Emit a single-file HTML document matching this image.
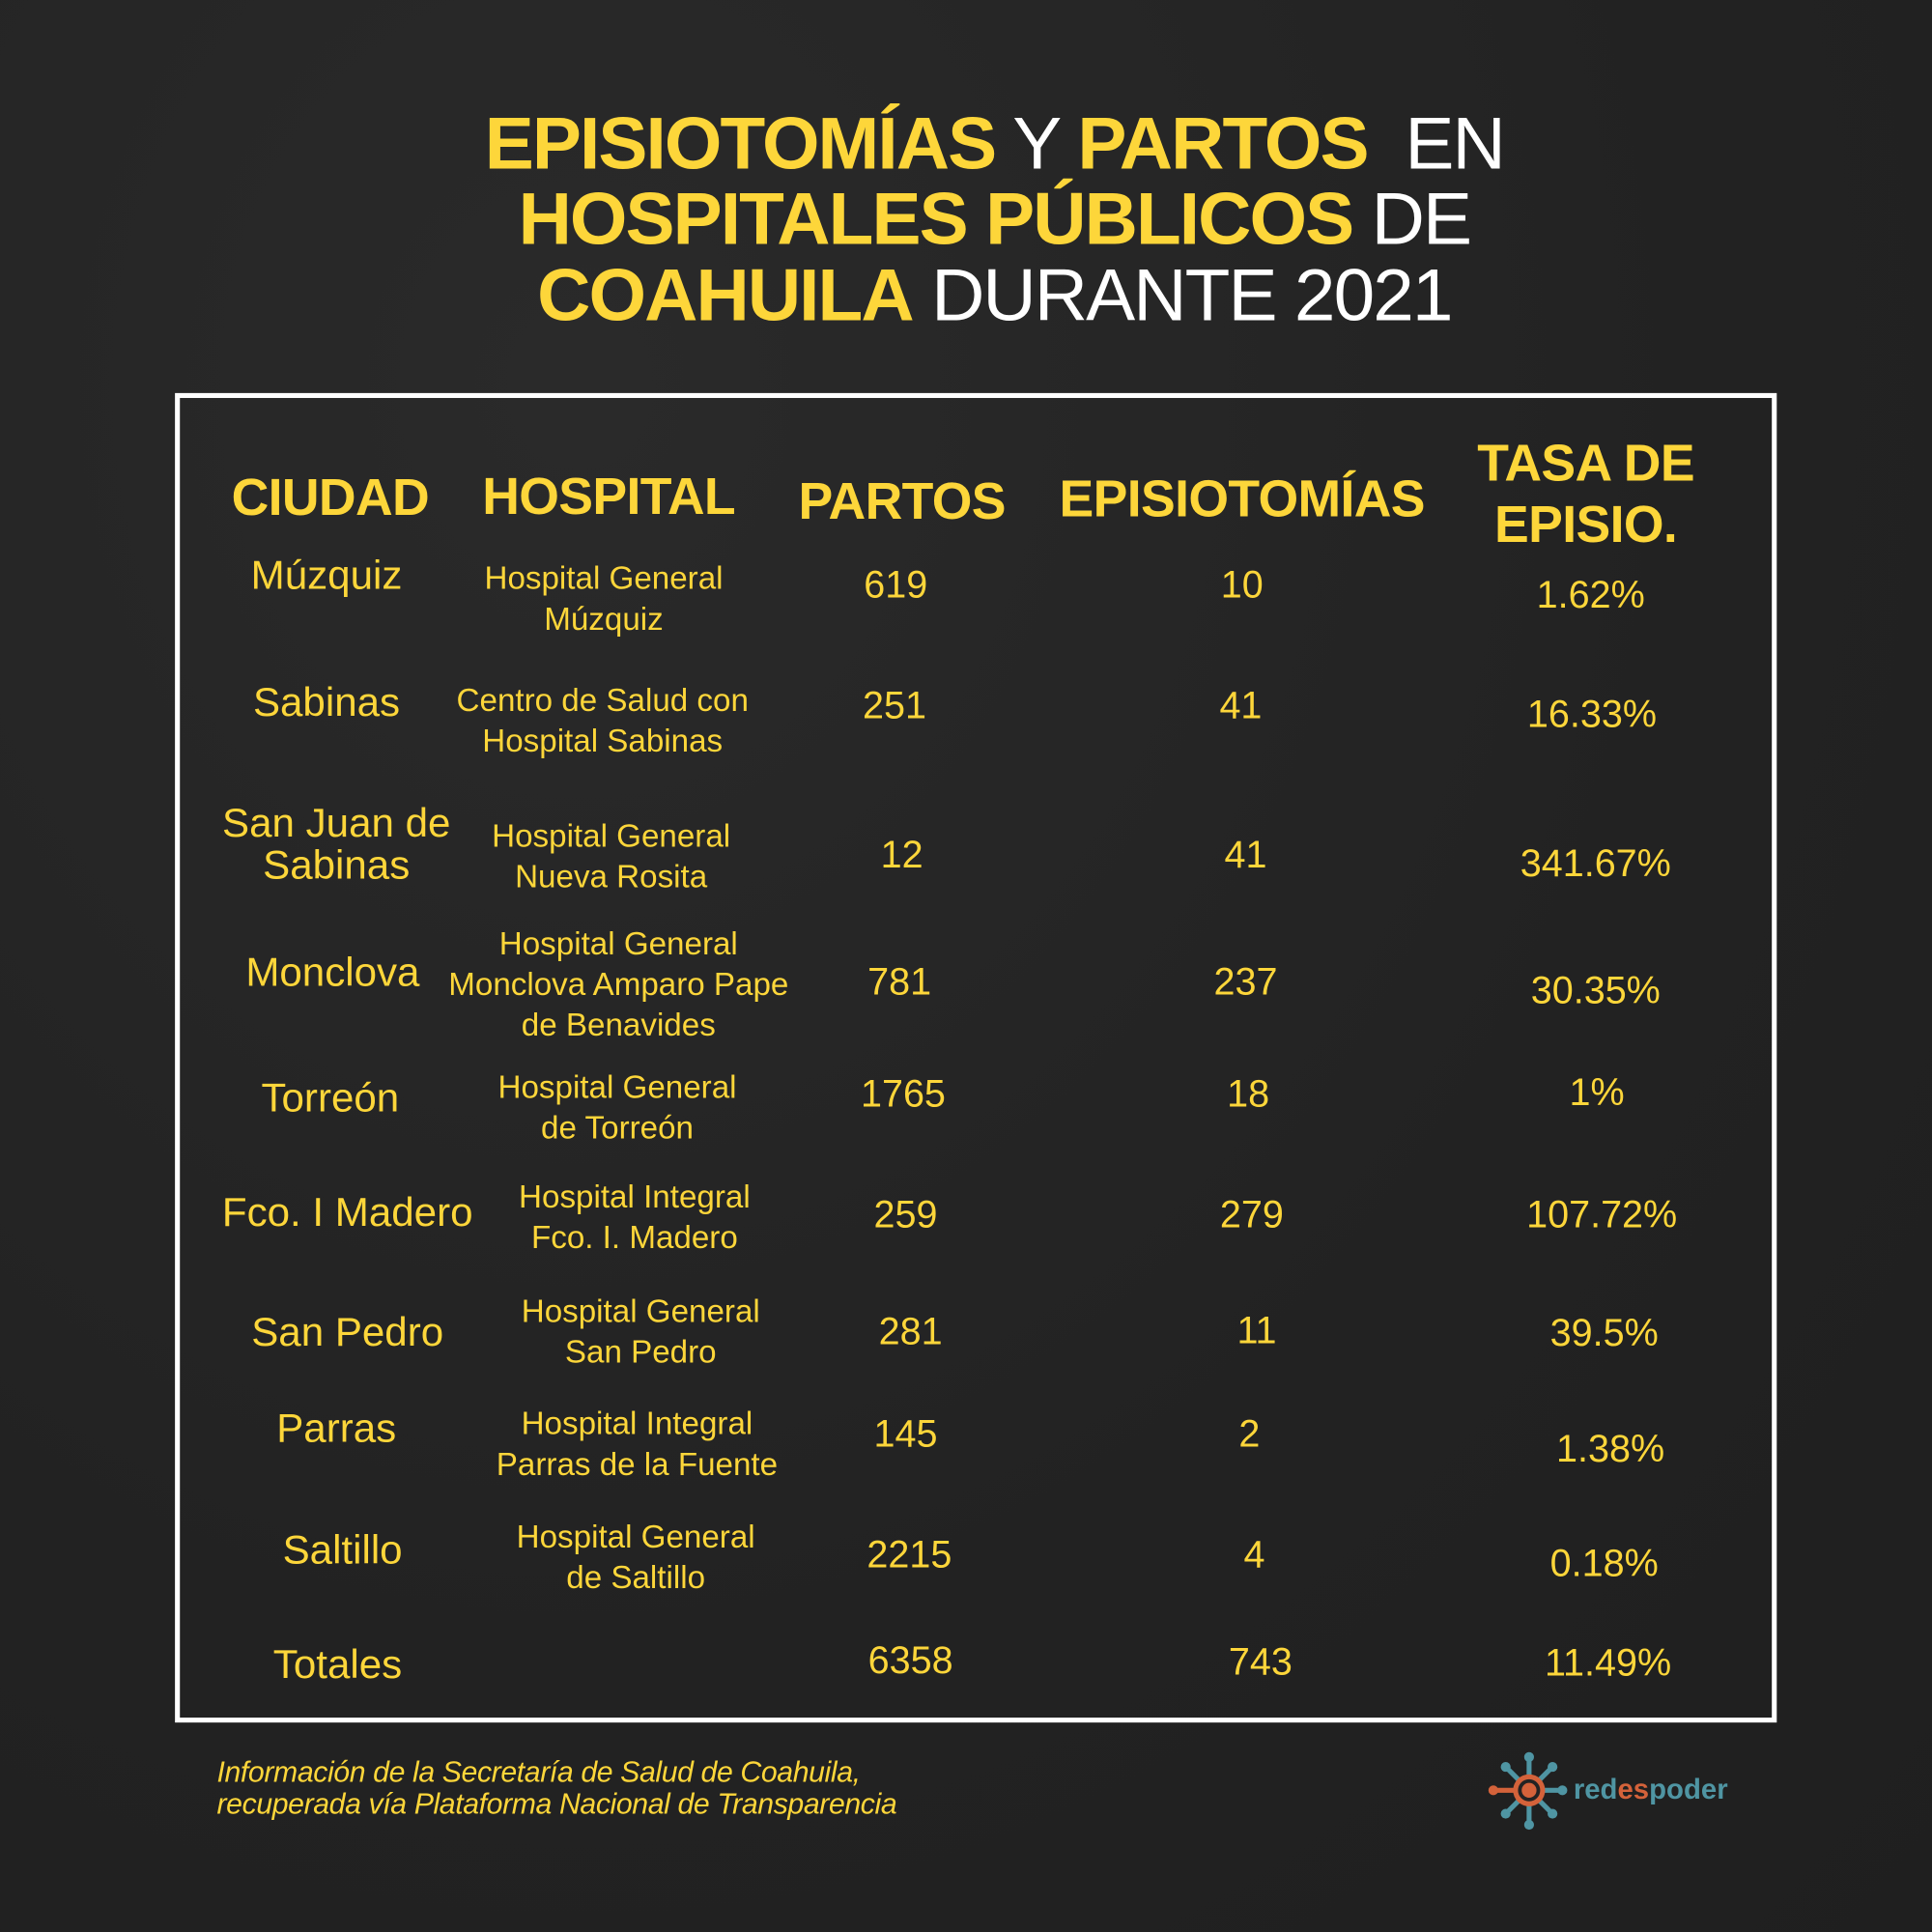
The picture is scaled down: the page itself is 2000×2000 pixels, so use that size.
<!DOCTYPE html>
<html><head><meta charset="utf-8"><style>
html,body{margin:0;padding:0;}
body{width:2000px;height:2000px;overflow:hidden;background:#232323;}
#s{position:absolute;left:0;top:0;width:1568px;height:1568px;transform:scale(1.27551);transform-origin:0 0;
background:radial-gradient(ellipse at 30% 20%,#2a2a2a 0,#222 60%,#1f1f1f 100%);
font-family:"Liberation Sans",sans-serif;color:#fdd63a;}
.t{position:absolute;transform:translate(-50%,-50%);white-space:nowrap;text-align:center;}
.title{font-size:60px;line-height:60px;letter-spacing:-1.5px;}
.title b{font-weight:bold;}
.title span{color:#fff;font-weight:normal;}
.h{font-weight:bold;font-size:42px;line-height:50px;letter-spacing:-0.5px;}
.c{font-size:33px;line-height:34px;}
.hp{font-size:26px;line-height:33px;}
.n{font-size:31px;}
#box{position:absolute;left:142px;top:319px;width:1292px;height:1071px;border:4px solid #fff;}
.f{position:absolute;left:176px;font-style:italic;font-size:23.7px;white-space:nowrap;letter-spacing:-0.3px;}
</style></head><body><div id="s">
<div class="t title" style="left:807px;top:117px"><b>EPISIOTOMÍAS</b><span> Y </span><b>PARTOS</b><span>&nbsp; EN</span></div>
<div class="t title" style="left:807px;top:178px"><b>HOSPITALES PÚBLICOS</b><span> DE</span></div>
<div class="t title" style="left:807px;top:240px"><b>COAHUILA</b><span> DURANTE 2021</span></div>
<div id="box"></div>
<div class="t h" style="left:268px;top:404px">CIUDAD</div>
<div class="t h" style="left:494px;top:403px">HOSPITAL</div>
<div class="t h" style="left:732px;top:407px">PARTOS</div>
<div class="t h" style="left:1008px;top:405px">EPISIOTOMÍAS</div>
<div class="t h" style="left:1287px;top:401px">TASA DE<br>EPISIO.</div>

<div class="t c" style="left:265px;top:467px">Múzquiz</div>
<div class="t hp" style="left:490px;top:486px">Hospital General<br>Múzquiz</div>
<div class="t n" style="left:727px;top:475px">619</div>
<div class="t n" style="left:1008px;top:475px">10</div>
<div class="t n" style="left:1291px;top:483px">1.62%</div>

<div class="t c" style="left:265px;top:570px">Sabinas</div>
<div class="t hp" style="left:489px;top:585px">Centro de Salud con<br>Hospital Sabinas</div>
<div class="t n" style="left:726px;top:573px">251</div>
<div class="t n" style="left:1007px;top:573px">41</div>
<div class="t n" style="left:1292px;top:580px">16.33%</div>

<div class="t c" style="left:273px;top:685px">San Juan de<br>Sabinas</div>
<div class="t hp" style="left:496px;top:695px">Hospital General<br>Nueva Rosita</div>
<div class="t n" style="left:732px;top:694px">12</div>
<div class="t n" style="left:1011px;top:694px">41</div>
<div class="t n" style="left:1295px;top:701px">341.67%</div>

<div class="t c" style="left:270px;top:789px">Monclova</div>
<div class="t hp" style="left:502px;top:799px">Hospital General<br>Monclova Amparo Pape<br>de Benavides</div>
<div class="t n" style="left:730px;top:797px">781</div>
<div class="t n" style="left:1011px;top:797px">237</div>
<div class="t n" style="left:1295px;top:804px">30.35%</div>

<div class="t c" style="left:268px;top:891px">Torreón</div>
<div class="t hp" style="left:501px;top:899px">Hospital General<br>de Torreón</div>
<div class="t n" style="left:733px;top:888px">1765</div>
<div class="t n" style="left:1013px;top:888px">18</div>
<div class="t n" style="left:1296px;top:887px">1%</div>

<div class="t c" style="left:282px;top:984px">Fco. I Madero</div>
<div class="t hp" style="left:515px;top:988px">Hospital Integral<br>Fco. I. Madero</div>
<div class="t n" style="left:735px;top:986px">259</div>
<div class="t n" style="left:1016px;top:986px">279</div>
<div class="t n" style="left:1300px;top:986px">107.72%</div>

<div class="t c" style="left:282px;top:1081px">San Pedro</div>
<div class="t hp" style="left:520px;top:1081px">Hospital General<br>San Pedro</div>
<div class="t n" style="left:739px;top:1081px">281</div>
<div class="t n" style="left:1020px;top:1080px">11</div>
<div class="t n" style="left:1302px;top:1082px">39.5%</div>

<div class="t c" style="left:273px;top:1159px">Parras</div>
<div class="t hp" style="left:517px;top:1172px">Hospital Integral<br>Parras de la Fuente</div>
<div class="t n" style="left:735px;top:1164px">145</div>
<div class="t n" style="left:1014px;top:1164px">2</div>
<div class="t n" style="left:1307px;top:1176px">1.38%</div>

<div class="t c" style="left:278px;top:1258px">Saltillo</div>
<div class="t hp" style="left:516px;top:1264px">Hospital General<br>de Saltillo</div>
<div class="t n" style="left:738px;top:1262px">2215</div>
<div class="t n" style="left:1018px;top:1262px">4</div>
<div class="t n" style="left:1302px;top:1269px">0.18%</div>

<div class="t c" style="left:274px;top:1351px">Totales</div>
<div class="t n" style="left:739px;top:1348px">6358</div>
<div class="t n" style="left:1023px;top:1349px">743</div>
<div class="t n" style="left:1305px;top:1350px">11.49%</div>

<div class="f" style="top:1426px">Información de la Secretaría de Salud de Coahuila,</div>
<div class="f" style="top:1452px">recuperada vía Plataforma Nacional de Transparencia</div>

<svg style="position:absolute;left:1205px;top:1420px" width="75" height="70" viewBox="0 0 75 70">
<g stroke="#4f95a3" stroke-width="4" stroke-linecap="round">
<line x1="36" y1="33" x2="36" y2="7"/><line x1="36" y1="33" x2="36" y2="60"/>
<line x1="36" y1="33" x2="62" y2="33"/><line x1="36" y1="33" x2="18" y2="15"/>
<line x1="36" y1="33" x2="54" y2="15"/><line x1="36" y1="33" x2="18" y2="51"/><line x1="36" y1="33" x2="54" y2="51"/>
</g>
<g fill="#4f95a3"><circle cx="36" cy="6" r="4"/><circle cx="36" cy="61" r="4"/><circle cx="63" cy="33" r="4"/>
<circle cx="17" cy="14" r="4"/><circle cx="55" cy="14" r="4"/><circle cx="17" cy="52" r="4"/><circle cx="55" cy="52" r="4"/></g>
<line x1="36" y1="33" x2="8" y2="33" stroke="#d4623a" stroke-width="4" stroke-linecap="round"/>
<circle cx="7" cy="33" r="4" fill="#d4623a"/>
<circle cx="36" cy="33" r="13" fill="#d4623a"/><circle cx="36" cy="33" r="9" fill="#232323"/><circle cx="36" cy="33" r="6" fill="#d4623a"/>
</svg>
<div style="position:absolute;left:1277px;top:1439px;font-size:23px;font-weight:bold;color:#4f95a3;white-space:nowrap;">red<span style="color:#d4623a">es</span>poder</div>
</div></body></html>
